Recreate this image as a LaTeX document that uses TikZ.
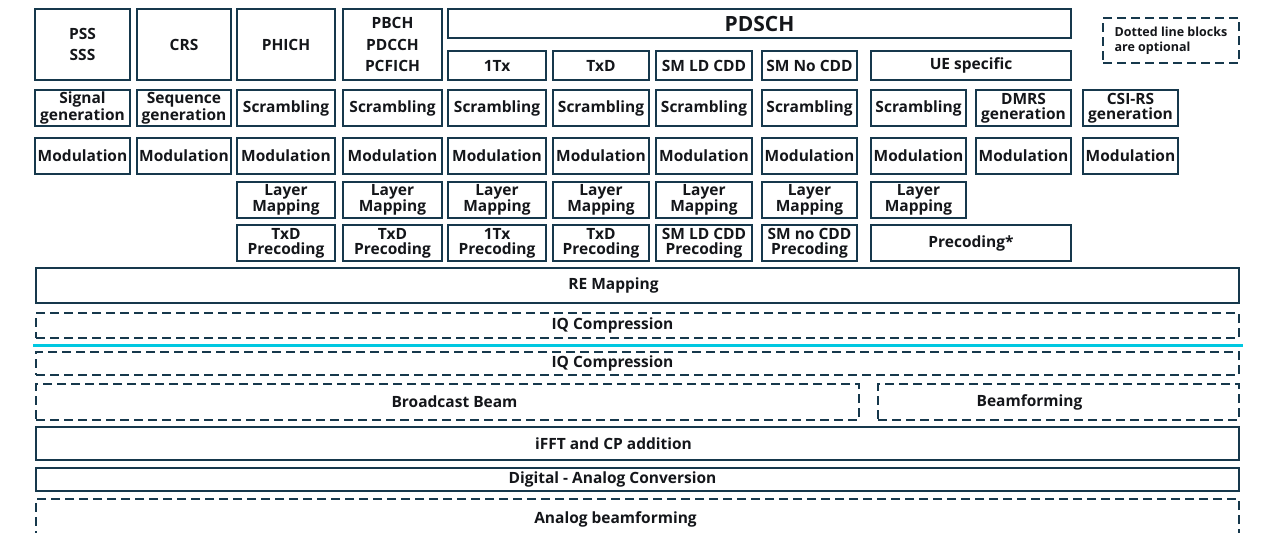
\documentclass[tikz,border=0pt]{standalone}
\usepackage{fontspec}
\setmainfont{Open Sans}
\definecolor{bd}{RGB}{22,56,76}
\definecolor{cy}{RGB}{0,200,225}
\definecolor{txt}{RGB}{20,22,26}
% box: [style]{name}{x1}{y1}{x2}{y2}{text}
\newcommand\bx[7][]{\node[blk,minimum width={#5pt-#3pt-2pt},minimum height={#6pt-#4pt-2pt},#1] (#2) at ({(#3+#5)/2},{(#4+#6)/2}) {#7};}
\newcommand\off[2]{\makebox[0pt][c]{\hspace*{#1pt}\hspace*{#1pt}#2}}
\begin{document}
\begin{tikzpicture}[x=1pt,y=-1pt,
  blk/.style={draw=bd, line width=2.4pt, inner sep=0pt, align=center, text=txt,
    font=\bfseries\fontsize{15.5}{15}\selectfont},
  hdr/.style={font=\bfseries\fontsize{15.5}{21.5}\selectfont},
  big/.style={font=\bfseries\fontsize{21}{21}\selectfont},
  opt/.style={dash pattern=on 9pt off 5pt},
  leg/.style={align=left, font=\bfseries\fontsize{12.5}{15}\selectfont}]
\useasboundingbox (0,0) rectangle (1262,533);
\clip (0,0) rectangle (1262,533);
% header row
\bx[hdr]{pss}{34}{8}{131}{81}{PSS\\SSS}
\bx[hdr]{crs}{136}{8}{232}{81}{CRS}
\bx[hdr]{phich}{236}{8}{336}{81}{PHICH}
\bx[hdr]{pbch}{342}{8}{443}{81}{PBCH\\PDCCH\\PCFICH}
\bx[big]{pdsch}{447}{8}{1072}{39}{PDSCH}
\bx{h1tx}{447}{50}{547}{81}{1Tx}
\bx{htxd}{552}{50}{650}{81}{TxD}
\bx{hsmld}{655}{50}{753}{81}{SM LD CDD}
\bx{hsmno}{761}{50}{858}{81}{SM No CDD}
\bx{hue}{870}{50}{1072}{81}{UE specific}
\bx[opt,leg]{legend}{1102}{17}{1240}{64}{Dotted line blocks\\are optional}
% row 2
\bx{sig}{34}{89}{131}{127}{Signal\\generation}
\bx{seq}{136}{89}{232}{127}{Sequence\\generation}
\foreach \i/\xa/\xb in {3/236/336,4/342/443,5/447/547,6/552/650,7/655/753,8/761/858,9/870/967}
  {\bx{scr\i}{\xa}{89}{\xb}{127}{Scrambling}}
\bx{dmrs}{975}{89}{1072}{127}{DMRS\\generation}
\bx{csi}{1082}{89}{1179}{127}{CSI-RS\\generation}
% row 3
\foreach \i/\xa/\xb in {1/34/131,2/136/232,3/236/336,4/342/443,5/447/547,6/552/650,7/655/753,8/761/858,9/870/967,10/975/1072,11/1082/1179}
  {\bx{mod\i}{\xa}{137}{\xb}{175}{Modulation}}
% row 4
\foreach \i/\xa/\xb in {3/236/336,4/342/443,5/447/547,6/552/650,7/655/753,8/761/858,9/870/967}
  {\bx{lm\i}{\xa}{181}{\xb}{219}{Layer\\Mapping}}
% row 5
\bx{pre3}{236}{224}{336}{262}{TxD\\Precoding}
\bx{pre4}{342}{224}{443}{262}{TxD\\Precoding}
\bx{pre5}{447}{224}{547}{262}{1Tx\\Precoding}
\bx{pre6}{552}{224}{650}{262}{TxD\\Precoding}
\bx{pre7}{655}{224}{753}{262}{SM LD CDD\\Precoding}
\bx{pre8}{761}{224}{858}{262}{SM no CDD\\Precoding}
\bx{pre9}{870}{224}{1072}{262}{Precoding*}
% lower chain
\bx{re}{35}{267}{1240}{304}{\off{-24}{RE Mapping}}
\bx[opt]{iq1}{35}{312}{1240}{339}{\off{-25}{IQ Compression}}
\coordinate (cl) at (33,345);
\coordinate (cr) at (1243,345);
\draw[cy, line width=3pt] (cl) -- (cr);
\bx[opt]{iq2}{35}{351}{1240}{376}{\off{-25}{IQ Compression}}
\bx[opt]{bb}{35}{383}{860}{421}{\off{7}{Broadcast Beam}}
\bx[opt]{bf}{877}{383}{1240}{421}{\off{-29}{Beamforming}}
\bx{ifft}{35}{426}{1240}{461}{\off{-24}{iFFT and CP addition}}
\bx{dac}{35}{467}{1240}{492}{\off{-25}{Digital - Analog Conversion}}
\bx[opt]{ab}{35}{498}{1240}{540}{\off{-22}{Analog beamforming}}
\end{tikzpicture}
\end{document}
